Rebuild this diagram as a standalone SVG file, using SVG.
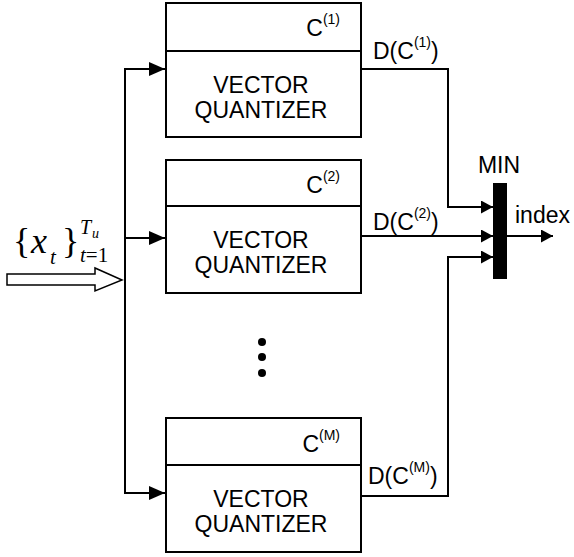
<svg xmlns="http://www.w3.org/2000/svg" width="574" height="557" viewBox="0 0 574 557">
<defs>
<style>
.box{fill:#fff;stroke:#000;stroke-width:2}
.ln{fill:none;stroke:#000;stroke-width:2}
.t{font-family:"Liberation Sans",Arial,sans-serif;font-size:23px;fill:#000}
.sup{font-size:14px}
.m{font-family:"Liberation Serif","Times New Roman",serif;fill:#000}
.i{font-style:italic}
</style>
<marker id="ah" markerWidth="16" markerHeight="14" refX="16" refY="7" orient="auto" markerUnits="userSpaceOnUse">
<path d="M0,0 L16,7 L0,14 Z" fill="#000"/>
</marker>
<marker id="ah2" markerWidth="12" markerHeight="13" refX="12" refY="6.5" orient="auto" markerUnits="userSpaceOnUse">
<path d="M0,0 L12,6.5 L0,13 Z" fill="#000"/>
</marker>
</defs>
<rect width="574" height="557" fill="#fff"/>

<g id="input">
<polygon points="7,274 95,274 95,268 122,280 95,291 95,285 7,285" fill="#fff" stroke="#000" stroke-width="1.5"/>
<text class="m" x="13" y="253" font-size="36">{</text>
<text class="m i" x="31" y="253" font-size="36">x</text>
<text class="m i" x="50" y="264" font-size="21">t</text>
<text class="m" x="62" y="253" font-size="36">}</text>
<text class="m i" x="80" y="234" font-size="20">T</text>
<text class="m i" x="92" y="238" font-size="14">u</text>
<text class="m" x="80" y="262" font-size="21"><tspan class="i">t</tspan>=1</text>
</g>

<g id="connectors">
<line class="ln" x1="125" y1="68" x2="125" y2="494"/>
<line class="ln" x1="125" y1="69" x2="165" y2="69" marker-end="url(#ah)"/>
<line class="ln" x1="125" y1="238" x2="165" y2="238" marker-end="url(#ah)"/>
<line class="ln" x1="125" y1="493" x2="165" y2="493" marker-end="url(#ah)"/>
<path class="ln" d="M362,69 H448 V207 H493" marker-end="url(#ah2)"/>
<path class="ln" d="M362,236 H493" marker-end="url(#ah2)"/>
<path class="ln" d="M362,496 H448 V257 H493" marker-end="url(#ah2)"/>
<path class="ln" d="M507,236 H553" marker-end="url(#ah2)"/>
</g>

<g id="vq1">
<rect class="box" x="166" y="3" width="195" height="134"/>
<line class="ln" x1="166" y1="51" x2="361" y2="51"/>
<text class="t" x="340" y="36" text-anchor="end">C<tspan class="sup" dy="-12">(1)</tspan></text>
<text class="t" x="261" y="93" text-anchor="middle">VECTOR</text>
<text class="t" x="261" y="118" text-anchor="middle">QUANTIZER</text>
</g>

<g id="vq2">
<rect class="box" x="166" y="160" width="195" height="133"/>
<line class="ln" x1="166" y1="206" x2="361" y2="206"/>
<text class="t" x="340" y="193" text-anchor="end">C<tspan class="sup" dy="-12">(2)</tspan></text>
<text class="t" x="261" y="248" text-anchor="middle">VECTOR</text>
<text class="t" x="261" y="273" text-anchor="middle">QUANTIZER</text>
</g>

<g id="dots">
<circle cx="262" cy="342" r="4"/>
<circle cx="262" cy="357" r="4"/>
<circle cx="262" cy="373" r="4"/>
</g>

<g id="vqM">
<rect class="box" x="166" y="418" width="195" height="134"/>
<line class="ln" x1="166" y1="465" x2="361" y2="465"/>
<text class="t" x="340" y="452" text-anchor="end">C<tspan class="sup" dy="-12">(M)</tspan></text>
<text class="t" x="261" y="507" text-anchor="middle">VECTOR</text>
<text class="t" x="261" y="532" text-anchor="middle">QUANTIZER</text>
</g>

<g id="labels">
<text class="t" x="373" y="59">D(C<tspan class="sup" dy="-12">(1)</tspan><tspan dy="12">)</tspan></text>
<text class="t" x="373" y="230">D(C<tspan class="sup" dy="-12">(2)</tspan><tspan dy="12">)</tspan></text>
<text class="t" x="368" y="484">D(C<tspan class="sup" dy="-12">(M)</tspan><tspan dy="12">)</tspan></text>
</g>

<g id="min">
<rect x="493" y="183" width="14" height="96" fill="#000"/>
<text class="t" x="499" y="173" text-anchor="middle">MIN</text>
<text class="t" x="515" y="223">index</text>
</g>
</svg>
